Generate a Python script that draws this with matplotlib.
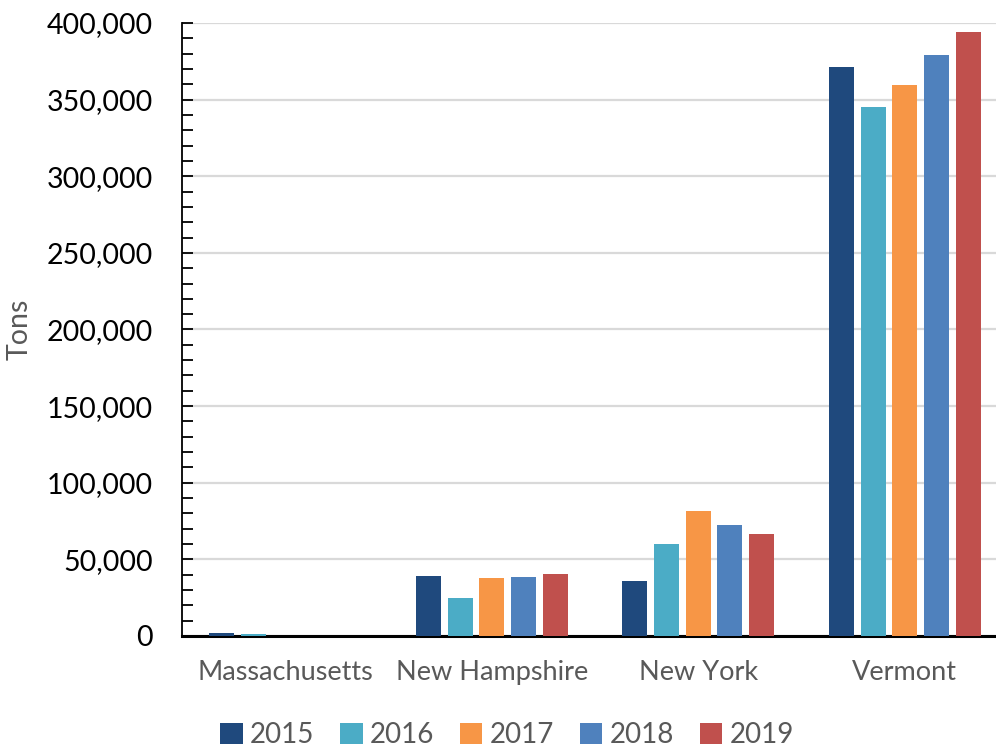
import matplotlib
matplotlib.use("Agg")
import matplotlib.pyplot as plt
import numpy as np
from matplotlib.ticker import FuncFormatter, MultipleLocator

categories = ["Massachusetts", "New Hampshire", "New York", "Vermont"]
years = ["2015", "2016", "2017", "2018", "2019"]
v2015 = [2200, 39000, 36000, 371000]
v2016 = [1500, 25000, 60000, 345500]
v2017 = [0, 38000, 81500, 359500]
v2018 = [0, 38500, 72500, 379000]
v2019 = [0, 40500, 66500, 394000]
series = [v2015, v2016, v2017, v2018, v2019]
colors = ["#1F497D", "#4BACC6", "#F79646", "#4F81BD", "#C0504D"]

plt.rcParams['font.family'] = ['Lato', 'DejaVu Sans']

fig = plt.figure(figsize=(9.96, 7.47), dpi=100)
W, H = 996, 747
left, right, top, bottom = 182, 1008, 23, 636
ax = fig.add_axes([left / W, 1 - bottom / H, (right - left) / W, (bottom - top) / H])

x = np.arange(len(categories))
step = 0.1535
width = 0.121
for i, (vals, c, yr) in enumerate(zip(series, colors, years)):
    ax.bar(x + (i - 2) * step, vals, width=width, color=c, label=yr,
           linewidth=0, zorder=2)

ax.set_xlim(-0.5, len(categories) - 0.5)
ax.set_ylim(0, 400000)
ax.yaxis.set_major_locator(MultipleLocator(50000))
ax.yaxis.set_minor_locator(MultipleLocator(10000))
ax.yaxis.set_major_formatter(FuncFormatter(lambda v, p: f"{int(v):,}"))
ax.grid(axis="y", which="major", color="#D9D9D9", linewidth=1.6, zorder=0)
ax.set_axisbelow(True)

for s in ["top", "right"]:
    ax.spines[s].set_visible(False)
ax.spines["left"].set_linewidth(1.3)
ax.spines["bottom"].set_linewidth(2.2)
ax.spines["left"].set_color("black")
ax.spines["bottom"].set_color("black")
for s in ax.spines.values():
    s.set_zorder(1.5)

ax.tick_params(axis="y", which="both", direction="in", length=8, width=1.3,
               labelsize=20.5, labelcolor="black", pad=21)
ax.tick_params(axis="x", length=0, labelsize=19.5, labelcolor="#595959", pad=17)
ax.set_xticks(x)
ax.set_xticklabels(categories)
ax.set_ylabel("Tons", fontsize=20.5, color="#595959", labelpad=10)

leg = fig.legend(loc="center", bbox_to_anchor=(507 / W, 1 - 735 / H), ncol=5,
                 frameon=False, fontsize=20, handlelength=0.8, handleheight=0.8,
                 handletextpad=0.25, columnspacing=0.95, labelcolor="#595959")

fig.savefig("out.png", dpi=100)
